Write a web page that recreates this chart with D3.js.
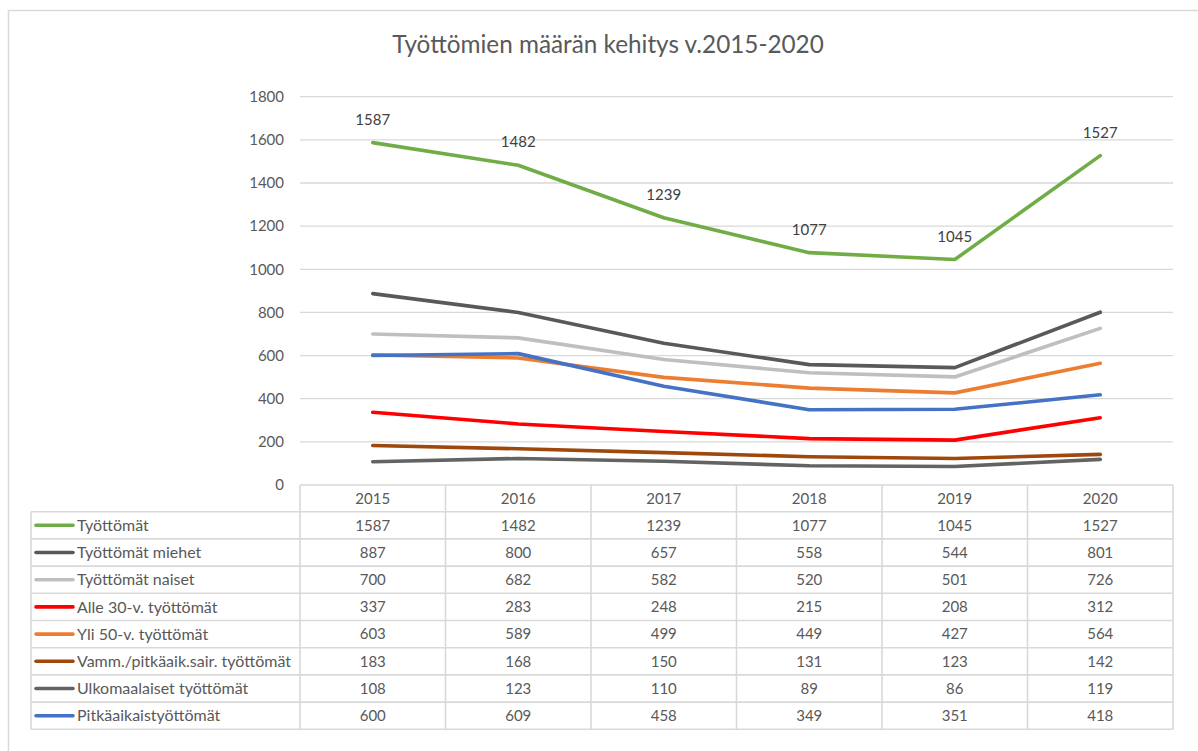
<!DOCTYPE html>
<html><head><meta charset="utf-8">
<script src="https://cdn.jsdelivr.net/npm/d3@7"></script>
<style>
html,body{margin:0;padding:0;background:#fff;}
svg text{font-family:Lato,"Open Sans",sans-serif;fill:#595959;}
</style></head>
<body>
<svg id="c" width="1198" height="751"></svg>
<script>
const title = "Työttömien määrän kehitys v.2015-2020";
const years = ["2015","2016","2017","2018","2019","2020"];
const yTicks = [0,200,400,600,800,1000,1200,1400,1600,1800];
const seriesNames = ["Työttömät","Työttömät miehet","Työttömät naiset","Alle 30-v. työttömät","Yli 50-v. työttömät","Vamm./pitkäaik.sair. työttömät","Ulkomaalaiset työttömät","Pitkäaikaistyöttömät"];
const seriesColors = ["#70AD47","#595959","#BFBFBF","#FF0000","#ED7D31","#9E480E","#636363","#4472C4"];
const tyottomat = [1587,1482,1239,1077,1045,1527];
const miehet = [887,800,657,558,544,801];
const naiset = [700,682,582,520,501,726];
const alle30 = [337,283,248,215,208,312];
const yli50 = [603,589,499,449,427,564];
const vamm = [183,168,150,131,123,142];
const ulkomaalaiset = [108,123,110,89,86,119];
const pitkaaikais = [600,609,458,349,351,418];
const seriesValues = [tyottomat,miehet,naiset,alle30,yli50,vamm,ulkomaalaiset,pitkaaikais];

const FS = "15px";
const svg = d3.select("#c");
svg.append("rect").attr("x",8.5).attr("y",10.5).attr("width",1210).attr("height",760)
  .attr("fill","none").attr("stroke","#D9D9D9").attr("stroke-width",1.5);

const pLeft = 300, pRight = 1173, pTop = 96.7, pBottom = 485;
const x = d3.scaleBand().domain(years).range([pLeft,pRight]);
const y = d3.scaleLinear().domain([0,1800]).range([pBottom,pTop]);

svg.append("text").attr("x",608).attr("y",53).attr("text-anchor","middle")
  .style("font-size","24.3px").text(title);

svg.append("g").selectAll("line").data(yTicks.filter(d=>d>0)).join("line")
  .attr("x1",pLeft).attr("x2",pRight).attr("y1",d=>y(d)).attr("y2",d=>y(d))
  .attr("stroke","#D9D9D9").attr("stroke-width",1.3);

const yAxis = d3.axisLeft(y).tickValues(yTicks).tickSize(0).tickPadding(16).tickFormat(d3.format("d"));
const gy = svg.append("g").attr("transform",`translate(${pLeft},0)`).call(yAxis);
gy.select(".domain").remove();
gy.selectAll("text").style("font-size",FS).style("font-family","Lato").attr("fill","#595959");

const line = d3.line().x((d,i)=>x(years[i])+x.bandwidth()/2).y(d=>y(d));
seriesValues.forEach((vals,k)=>{
  svg.append("path").datum(vals).attr("d",line).attr("fill","none")
    .attr("stroke",seriesColors[k]).attr("stroke-width",3.6)
    .attr("stroke-linejoin","round").attr("stroke-linecap","round");
});

svg.append("g").selectAll("text").data(tyottomat).join("text")
  .attr("x",(d,i)=>x(years[i])+x.bandwidth()/2).attr("y",d=>y(d)-18)
  .attr("text-anchor","middle").style("font-size",FS).style("fill","#404040").text(d=>d);

const rowH = 27.2;
const headTop = 485, rowTop = 511.7;
const tableLeft = 31;
const tg = svg.append("g");
const bc = "#D9D9D9", bw = 1.6;
tg.append("line").attr("x1",pLeft).attr("x2",pRight).attr("y1",headTop).attr("y2",headTop).attr("stroke",bc).attr("stroke-width",bw);
const nRows = seriesNames.length;
for(let r=0;r<=nRows;r++){
  tg.append("line").attr("x1",tableLeft).attr("x2",pRight).attr("y1",rowTop+r*rowH).attr("y2",rowTop+r*rowH).attr("stroke",bc).attr("stroke-width",bw);
}
const colEdges = years.map(yr=>x(yr)).concat([pRight]);
colEdges.forEach(cx=>{
  tg.append("line").attr("x1",cx).attr("x2",cx).attr("y1",headTop).attr("y2",rowTop+nRows*rowH).attr("stroke",bc).attr("stroke-width",bw);
});
tg.append("line").attr("x1",tableLeft).attr("x2",tableLeft).attr("y1",rowTop).attr("y2",rowTop+nRows*rowH).attr("stroke",bc).attr("stroke-width",bw);

tg.selectAll("text.h").data(years).join("text").attr("class","h")
  .attr("x",d=>x(d)+x.bandwidth()/2).attr("y",headTop+13.5).attr("dy","0.35em")
  .attr("text-anchor","middle").style("font-size",FS).text(d=>d);

seriesNames.forEach((name,k)=>{
  const cy = rowTop + k*rowH + rowH/2;
  tg.append("line").attr("x1",36).attr("x2",73).attr("y1",cy).attr("y2",cy)
    .attr("stroke",seriesColors[k]).attr("stroke-width",3.6).attr("stroke-linecap","round");
  tg.append("text").attr("x",77).attr("y",cy).attr("dy","0.35em").style("font-size","16px").text(name);
  seriesValues[k].forEach((v,i)=>{
    tg.append("text").attr("x",x(years[i])+x.bandwidth()/2).attr("y",cy).attr("dy","0.35em")
      .attr("text-anchor","middle").style("font-size",FS).text(v);
  });
});
</script>
</body></html>
